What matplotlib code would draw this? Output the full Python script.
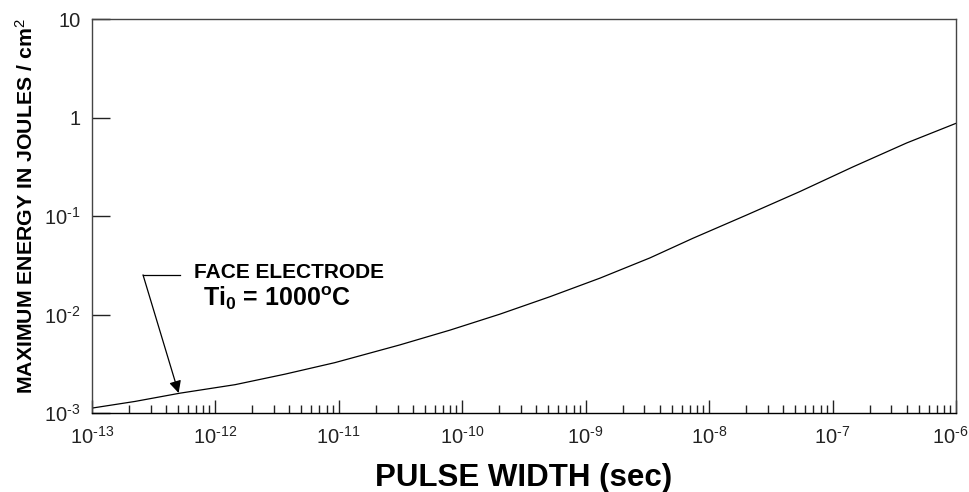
import numpy as np
import matplotlib
matplotlib.use('Agg')
import matplotlib.pyplot as plt
import matplotlib.transforms as mtrans
from matplotlib.ticker import FixedLocator, FixedFormatter, LogLocator, NullLocator

plt.rcParams['font.family'] = ['Liberation Sans', 'DejaVu Sans']
plt.rcParams['mathtext.fontset'] = 'custom'
plt.rcParams['mathtext.rm'] = 'Liberation Sans'
plt.rcParams['mathtext.it'] = 'Liberation Sans'
plt.rcParams['mathtext.bf'] = 'Liberation Sans:bold'

# values
pulse_width = [1e-13, 2.24e-13, 5.19e-13, 1.45e-12, 3.67e-12, 9.33e-12,
               3.13e-11, 7.96e-11, 2.02e-10, 5.14e-10, 1.31e-9, 3.32e-9,
               7.4e-9, 2.02e-8, 5.43e-8, 1.46e-7, 3.99e-7, 1e-6]
max_energy = [1.12e-3, 1.31e-3, 1.59e-3, 1.94e-3, 2.48e-3, 3.25e-3,
              4.92e-3, 6.95e-3, 0.0101, 0.0152, 0.0235, 0.0377,
              0.0597, 0.103, 0.178, 0.317, 0.556, 0.88]

x_ticks = [1e-13, 1e-12, 1e-11, 1e-10, 1e-9, 1e-8, 1e-7, 1e-6]
x_tick_labels = [r'$10^{\text{-}%d}$' % n for n in range(13, 5, -1)]
y_ticks = [1e-3, 1e-2, 1e-1, 1, 10]
y_tick_labels = [r'$10^{\text{-}3}$', r'$10^{\text{-}2}$', r'$10^{\text{-}1}$', '1', '10']

fig = plt.figure(figsize=(9.69, 4.92), dpi=100)
ax = fig.add_axes([0.0946, 0.1606, 0.892, 0.7998])

ax.plot(pulse_width, max_energy, color='black', lw=0.9)

ax.set_xscale('log')
ax.set_yscale('log')
ax.set_xlim(1e-13, 1e-6)
ax.set_ylim(1e-3, 10)

ax.xaxis.set_major_locator(FixedLocator(x_ticks))
ax.xaxis.set_major_formatter(FixedFormatter(x_tick_labels))
ax.xaxis.set_minor_locator(LogLocator(base=10, subs=np.arange(2, 10)))
ax.yaxis.set_major_locator(FixedLocator(y_ticks))
ax.yaxis.set_major_formatter(FixedFormatter(y_tick_labels))
ax.yaxis.set_minor_locator(NullLocator())

ax.tick_params(axis='x', which='major', direction='in', length=9.5, width=1,
               pad=9, labelsize=14.5, colors='#222222')
ax.tick_params(axis='x', which='minor', direction='in', length=5.5, width=1,
               colors='#222222')
ax.tick_params(axis='y', which='major', direction='in', length=13, width=1,
               pad=8, labelsize=14.5, colors='#222222')
for sp in ax.spines.values():
    sp.set_color('#444444')
    sp.set_linewidth(1.0)
ax.spines['bottom'].set_color('black')

# last x label sits against the right edge, nudge it left
fig.canvas.draw()
last = ax.get_xticklabels()[-1]
last.set_transform(last.get_transform() +
                   mtrans.ScaledTranslation(-6 / 100, 0, fig.dpi_scale_trans))

ax.set_xlabel('PULSE WIDTH (sec)', fontsize=22.5, fontweight='bold', labelpad=11)
ax.set_ylabel(r'MAXIMUM ENERGY IN JOULES / cm$^2$', fontsize=15.3, fontweight='bold')
ax.yaxis.set_label_coords(-0.063, 0.526)

ax.text(0.2283, 0.356, 'FACE ELECTRODE', transform=ax.transAxes,
        ha='center', va='center', fontsize=15, fontweight='bold')
ax.text(0.2144, 0.292, r'Ti$_\mathbf{0}$ = 1000$^\mathbf{o}$C', transform=ax.transAxes,
        ha='center', va='center', fontsize=18, fontweight='bold')

ax.plot([0.0594, 0.102], [0.351, 0.351], transform=ax.transAxes, color='black', lw=0.9)
ax.annotate('', xy=(0.1006, 0.0508), xycoords='axes fraction',
            xytext=(0.0594, 0.351), textcoords='axes fraction',
            arrowprops=dict(arrowstyle='-|>', color='black', lw=0.9,
                            mutation_scale=18, shrinkA=0, shrinkB=0))

fig.savefig('out.png', dpi=100)
